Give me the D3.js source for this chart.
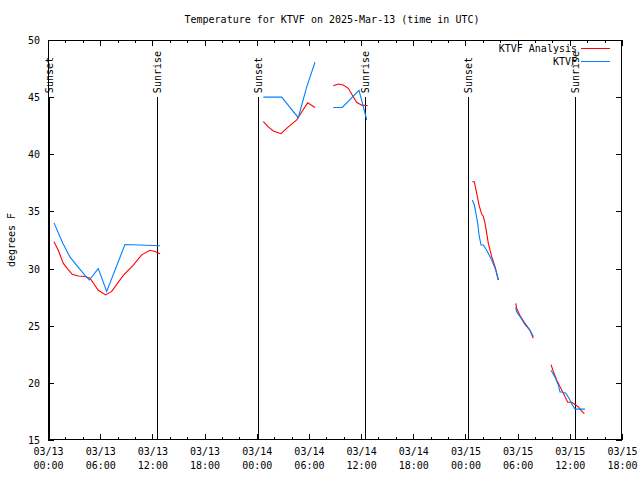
<!DOCTYPE html>
<html>
<head>
<meta charset="utf-8">
<script src="https://cdn.jsdelivr.net/npm/d3@7"></script>
<style>
  body { margin: 0; background: #fff; }
  svg { display: block; }
  text { font-family: "DejaVu Sans Mono", monospace; font-size: 10px; fill: #000; }
</style>
</head>
<body>
<svg id="chart" width="640" height="480"></svg>
<script>
// ---- data (hours since 2025-03-13 00:00 UTC; null = gap) ----
const analysisHours = [0.69,1.18,1.76,2.33,2.79,3.48,4.25,4.83,5.78,6.63,7.32,8.66,9.81,10.77,11.73,12.30,12.88, null,
  24.76,25.33,25.91,26.79,27.63,28.60,29.17,29.86,30.70, null,
  32.80,33.38,33.95,34.53,35.10,35.49,36.07,36.76, null,
  48.79,49.02,49.29,49.56,49.87,50.05,50.25,50.44,50.63,51.02,51.40,51.78, null,
  53.78,53.89,54.27,54.85,55.42,55.80, null,
  57.84,58.10,58.49,58.87,59.25,59.76,60.22,60.60,60.98,61.29,61.67];
const analysisTemps = [32.35,31.6,30.45,29.9,29.5,29.35,29.3,29.15,28.1,27.7,28.0,29.4,30.3,31.2,31.6,31.5,31.3, null,
  42.86,42.4,42.04,41.8,42.4,43.0,43.7,44.5,44.1, null,
  46.0,46.15,46.06,45.77,45.04,44.55,44.3,44.25, null,
  37.6,37.6,36.6,35.56,34.75,34.6,33.96,33.1,32.2,31.04,30.17,29.0, null,
  26.96,26.5,25.9,25.2,24.6,23.9, null,
  21.6,21.0,20.25,19.67,19.1,18.3,18.3,18.1,17.9,17.6,17.3];

const obsHours = [0.69,1.72,2.53,4.25,4.75,5.78,6.75,8.85,12.88, null,
  24.76,26.87,28.78,29.75,30.70, null,
  32.80,33.84,35.76,36.25,36.65, null,
  48.79,49.02,49.21,49.41,49.56,49.79,50.05,50.44,51.02,51.48,51.78, null,
  53.78,53.89,54.27,54.85,55.42,55.80, null,
  57.84,58.30,58.68,58.87,59.07,59.53,59.91,60.29,60.60,61.75];
const obsTemps = [34.0,32.2,31.0,29.4,29.0,30.0,28.0,32.1,32.0, null,
  45.0,45.0,43.2,45.9,48.05, null,
  44.1,44.1,45.6,44.2,43.0, null,
  36.0,35.56,34.8,33.96,32.94,32.06,32.06,31.6,30.75,29.9,29.0, null,
  26.6,26.2,25.8,25.1,24.6,24.05, null,
  21.1,20.5,19.8,19.2,19.2,19.1,18.65,18.06,17.7,17.7];

const sunEventHours = [0.15, 12.5, 24.15, 36.5, 48.3, 60.55];
const sunEventLabels = ["Sunset","Sunrise","Sunset","Sunrise","Sunset","Sunrise"];

const xTickHours = [0,6,12,18,24,30,36,42,48,54,60,66];
const xTickDates = ["03/13","03/13","03/13","03/13","03/14","03/14","03/14","03/14","03/15","03/15","03/15","03/15"];
const xTickTimes = ["00:00","06:00","12:00","18:00","00:00","06:00","12:00","18:00","00:00","06:00","12:00","18:00"];
const yTicks = [15,20,25,30,35,40,45,50];
const seriesNames = ["KTVF Analysis","KTVF"];
const seriesColors = ["#ff0000","#0080ff"];
const titleText = "Temperature for KTVF on 2025-Mar-13 (time in UTC)";
const yLabelText = "degrees F";

// ---- layout ----
const L = 48, R = 622, T = 40, B = 440;
const svg = d3.select("#chart");
const x = d3.scaleLinear().domain([0, 66]).range([L, R]);
const y = d3.scaleLinear().domain([15, 50]).range([B, T]);

const minorHours = d3.range(0, 67, 2).filter(h => h % 6 !== 0);

function styleAxis(g) {
  g.select(".domain").remove();
  g.selectAll("line").attr("stroke", "#000").attr("shape-rendering", "crispEdges");
}

// bottom major + minor ticks
svg.append("g").attr("transform", `translate(0,${B})`)
  .call(d3.axisBottom(x).tickValues(xTickHours).tickSizeInner(-6).tickSizeOuter(0).tickPadding(9)
    .tickFormat((d, i) => i))
  .call(styleAxis)
  .call(g => g.selectAll("text").each(function(d, i) {
    const t = d3.select(this).text(null).attr("dy", null).attr("y", 0);
    t.append("tspan").attr("x", 0).attr("y", 15).text(xTickDates[i]);
    t.append("tspan").attr("x", 0).attr("y", 29).text(xTickTimes[i]);
  }));
svg.append("g").attr("transform", `translate(0,${B})`)
  .call(d3.axisBottom(x).tickValues(minorHours).tickSizeInner(-3).tickSizeOuter(0).tickFormat(""))
  .call(styleAxis);
// top mirrored ticks
svg.append("g").attr("transform", `translate(0,${T})`)
  .call(d3.axisTop(x).tickValues(xTickHours).tickSizeInner(-6).tickSizeOuter(0).tickFormat(""))
  .call(styleAxis);
svg.append("g").attr("transform", `translate(0,${T})`)
  .call(d3.axisTop(x).tickValues(minorHours).tickSizeInner(-3).tickSizeOuter(0).tickFormat(""))
  .call(styleAxis);
// left + right y ticks
svg.append("g").attr("transform", `translate(${L},0)`)
  .call(d3.axisLeft(y).tickValues(yTicks).tickSizeInner(-6).tickSizeOuter(0).tickPadding(8).tickFormat(d3.format("d")))
  .call(styleAxis)
  .call(g => g.selectAll("text").attr("dy", "0.35em"));
svg.append("g").attr("transform", `translate(${R},0)`)
  .call(d3.axisRight(y).tickValues(yTicks).tickSizeInner(-6).tickSizeOuter(0).tickFormat(""))
  .call(styleAxis);

// frame
svg.append("rect").attr("x", L + 0.5).attr("y", T + 0.5).attr("width", R - L - 1).attr("height", B - T - 1)
  .attr("fill", "none").attr("stroke", "#000").attr("shape-rendering", "crispEdges");

// sunrise / sunset lines
const sun = svg.append("g");
sunEventHours.forEach((h, i) => {
  const px = Math.round(x(h)) + 0.5;
  sun.append("line").attr("x1", px).attr("x2", px).attr("y1", y(15)).attr("y2", y(45))
    .attr("stroke", "#000").attr("shape-rendering", "crispEdges");
  sun.append("text").attr("transform", `translate(${px + 3.5},${y(45) - 4}) rotate(-90)`)
    .attr("text-anchor", "start").text(sunEventLabels[i]);
});

// series lines
const lineGen = (hours) => d3.line()
  .defined((d, i) => d !== null && hours[i] !== null)
  .x((d, i) => x(hours[i])).y(d => y(d));

svg.append("path").datum(analysisTemps)
  .attr("d", lineGen(analysisHours)).attr("fill", "none").attr("stroke", seriesColors[0]).attr("stroke-width", 1.1);
svg.append("path").datum(obsTemps)
  .attr("d", lineGen(obsHours)).attr("fill", "none").attr("stroke", seriesColors[1]).attr("stroke-width", 1.1);

// legend
seriesNames.forEach((name, i) => {
  const ly = 48 + i * 13;
  svg.append("text").attr("x", 577).attr("y", ly).attr("dy", "0.35em").attr("text-anchor", "end").text(name);
  svg.append("line").attr("x1", 581).attr("x2", 610).attr("y1", ly + 0.5).attr("y2", ly + 0.5)
    .attr("stroke", seriesColors[i]).attr("shape-rendering", "crispEdges");
});

// title & y label
svg.append("text").attr("x", 332).attr("y", 19).attr("dy", "0.35em").attr("text-anchor", "middle").text(titleText);
svg.append("text").attr("transform", `translate(11,240) rotate(-90)`).attr("text-anchor", "middle")
  .attr("dy", "0.35em").text(yLabelText);
</script>
</body>
</html>
